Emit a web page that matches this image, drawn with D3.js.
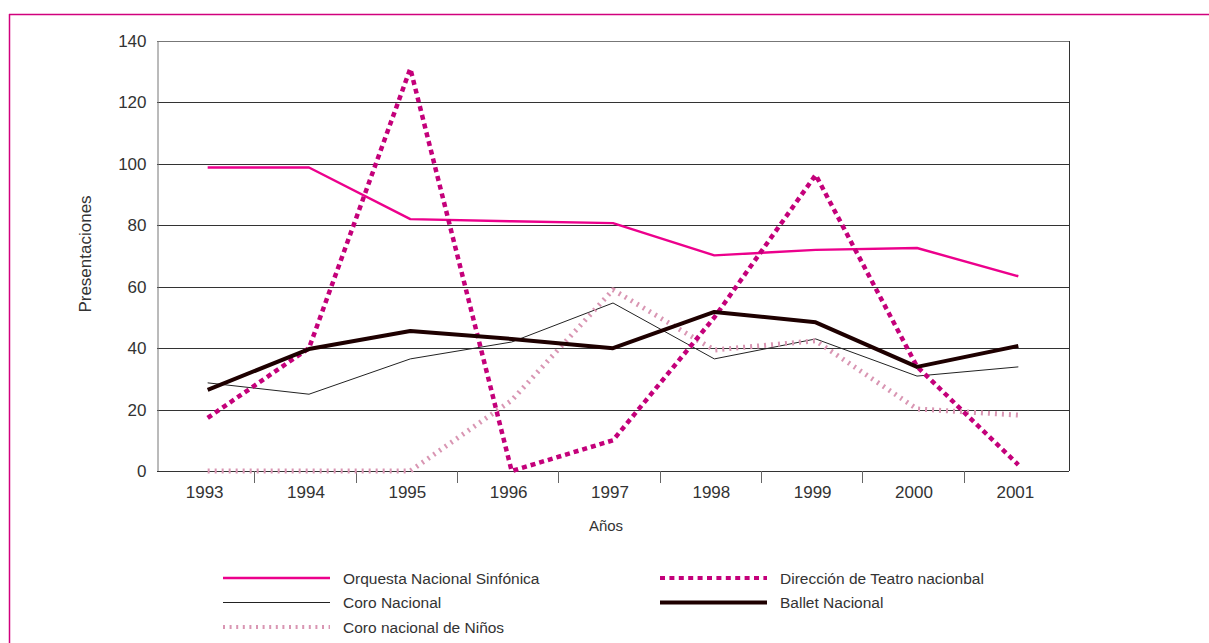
<!DOCTYPE html>
<html>
<head>
<meta charset="utf-8">
<script src="https://cdn.jsdelivr.net/npm/d3@7"></script>
<style>
  body { margin: 0; background: #fff; }
  svg { display: block; font-family: "Liberation Sans", Arial, sans-serif; }
</style>
</head>
<body>
<svg id="chart" width="1209" height="643"></svg>
<script>
// data
const years = ['1993', '1994', '1995', '1996', '1997', '1998', '1999', '2000', '2001'];
const orquesta = [98.8, 98.8, 82, 81.3, 80.7, 70.2, 72, 72.6, 63.4];
const direccion = [17.3, 40, 131, 0, 10, 50, 96.4, 34, 2];
const coroNacional = [28.7, 25, 36.5, 42, 54.7, 36.5, 43, 30.9, 33.9];
const ballet = [26.4, 39.7, 45.6, 43, 40, 51.8, 48.4, 33.9, 40.7];
const coroNinos = [0, 0, 0, 23, 59, 39.4, 42.4, 20.2, 18.2];
const yTicks = [0, 20, 40, 60, 80, 100, 120, 140];

const series = [
  { name: 'Orquesta Nacional Sinfónica', values: orquesta, color: '#ec008c', width: 2.4, dash: null },
  { name: 'Coro Nacional', values: coroNacional, color: '#222', width: 1, dash: null },
  { name: 'Coro nacional de Niños', values: coroNinos, color: '#d996b3', width: 5, dash: '2,5' },
  { name: 'Dirección de Teatro nacionbal', values: direccion, color: '#c4007a', width: 4.5, dash: '5,4' },
  { name: 'Ballet Nacional', values: ballet, color: '#1e0000', width: 4, dash: null }
];

const svg = d3.select('#chart');

// outer frame (magenta)
svg.append('line').attr('x1', 9).attr('y1', 14.5).attr('x2', 1209).attr('y2', 14.5)
  .attr('stroke', '#d1007d').attr('stroke-width', 1.5);
svg.append('line').attr('x1', 9.5).attr('y1', 14).attr('x2', 9.5).attr('y2', 643)
  .attr('stroke', '#d1007d').attr('stroke-width', 1.5);

const plotLeft = 157, plotRight = 1069, plotTop = 41, plotBottom = 471;

const x = d3.scaleBand().domain(years).range([plotLeft, plotRight]);
const y = d3.scaleLinear().domain([0, 140]).range([plotBottom, plotTop]);

// grid lines
svg.append('g').selectAll('line')
  .data(yTicks.slice(1))
  .enter().append('line')
  .attr('x1', plotLeft).attr('x2', plotRight)
  .attr('y1', d => Math.round(y(d)) + 0.5).attr('y2', d => Math.round(y(d)) + 0.5)
  .attr('stroke', d => d === 140 ? '#777' : '#333')
  .attr('stroke-width', 1);

// right border
svg.append('line').attr('x1', plotRight + 0.5).attr('x2', plotRight + 0.5)
  .attr('y1', plotTop).attr('y2', plotBottom).attr('stroke', '#333');

// y axis
const yAxis = svg.append('g')
  .attr('transform', `translate(${plotLeft + 0.5},0)`)
  .call(d3.axisLeft(y).tickValues(yTicks).tickSize(0).tickPadding(11));
yAxis.select('.domain').attr('stroke', '#777');
yAxis.selectAll('text').attr('fill', '#333').style('font-size', '17px');

// x axis
const xAxis = svg.append('g')
  .attr('transform', `translate(0,${plotBottom + 0.5})`)
  .call(d3.axisBottom(x).tickSize(0).tickPadding(14));
xAxis.select('.domain').attr('stroke', '#333').attr('d', `M${plotLeft},0H${plotRight}`);
xAxis.selectAll('text').attr('fill', '#333').attr('dx', -3).style('font-size', '17px');

// tick marks between categories
svg.append('g').selectAll('line')
  .data(years.slice(1))
  .enter().append('line')
  .attr('x1', d => Math.round(x(d)) - 3.5).attr('x2', d => Math.round(x(d)) - 3.5)
  .attr('y1', plotBottom).attr('y2', plotBottom + 12)
  .attr('stroke', '#666');

// axis titles
svg.append('text')
  .attr('x', 606).attr('y', 531)
  .attr('text-anchor', 'middle')
  .attr('fill', '#333')
  .style('font-size', '15px')
  .text('Años');

svg.append('text')
  .attr('transform', 'translate(91,254) rotate(-90)')
  .attr('text-anchor', 'middle')
  .attr('fill', '#333')
  .style('font-size', '17px')
  .text('Presentaciones');

// lines
series.forEach(s => {
  const line = d3.line()
    .x((d, i) => x(years[i]) + x.bandwidth() / 2)
    .y(d => y(d));
  svg.append('path')
    .datum(s.values)
    .attr('d', line)
    .attr('fill', 'none')
    .attr('stroke', s.color)
    .attr('stroke-width', s.width)
    .attr('stroke-dasharray', s.dash)
    .attr('stroke-linejoin', 'round');
});

// legend
const legendItems = [
  { s: series[0], col: 0, row: 0 },
  { s: series[3], col: 1, row: 0 },
  { s: series[1], col: 0, row: 1 },
  { s: series[4], col: 1, row: 1 },
  { s: series[2], col: 0, row: 2 }
];

legendItems.forEach(item => {
  const gx = item.col === 0 ? 223 : 660;
  const gy = 578 + item.row * 24.5;
  const g = svg.append('g').attr('transform', `translate(${gx},${gy})`);
  g.append('line')
    .attr('x1', 0).attr('x2', 107)
    .attr('y1', 0).attr('y2', 0)
    .attr('stroke', item.s.color)
    .attr('stroke-width', item.s.name === 'Coro Nacional' ? 1 : (item.s.width > 3 ? 4 : 2.5))
    .attr('stroke-dasharray', item.s.name === 'Coro nacional de Niños' ? '2,4.6' :
      (item.s.dash ? '5,4.4' : null));
  g.append('text')
    .attr('x', 120).attr('y', 5.5)
    .attr('fill', '#333')
    .style('font-size', '15.5px')
    .text(item.s.name);
});
</script>
</body>
</html>
